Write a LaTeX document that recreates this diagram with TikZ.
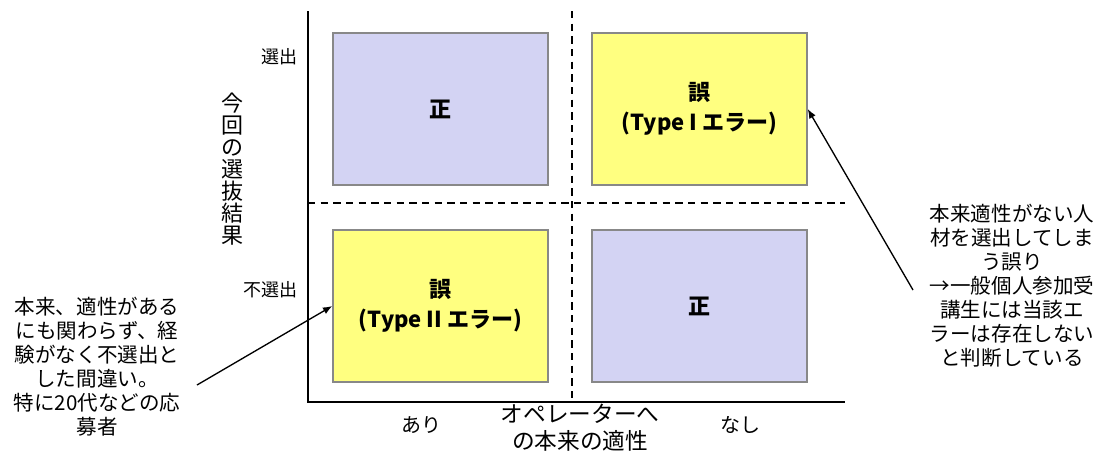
\documentclass[tikz,border=0pt]{standalone}
\usepackage{fontspec}
\setmainfont{Noto Sans CJK JP}
\usetikzlibrary{arrows.meta}
\definecolor{lav}{RGB}{211,211,243}
\definecolor{yel}{RGB}{255,255,128}
\definecolor{edge}{RGB}{136,136,136}
\tikzset{
  quad/.style={draw=edge, line width=1.1pt, minimum width=161.25pt, minimum height=114pt, inner sep=0pt, align=center, font=\fontsize{16.5pt}{22.5pt}\selectfont\bfseries},
  axis/.style={line width=1.1pt},
  divider/.style={line width=1.1pt, dash pattern=on 5.5pt off 4pt},
  note/.style={align=center, inner sep=0pt, font=\fontsize{15.4pt}{18pt}\selectfont},
  tick/.style={inner sep=0pt, font=\fontsize{13.5pt}{16pt}\selectfont},
  pointer/.style={line width=1pt, -{Latex[length=7pt,width=5.5pt]}}
}
\begin{document}
\begin{tikzpicture}[x=0.75pt, y=-0.75pt]
\useasboundingbox (0,0) rectangle (1098,454);
% axes
\coordinate (ytop) at (308,11);
\coordinate (origin) at (308,402);
\coordinate (xend) at (845,402);
\draw[axis] (ytop) -- (origin) -- (xend);
% dividers
\coordinate (vtop) at (572,11);
\coordinate (vbot) at (572,402);
\coordinate (hleft) at (308,203);
\coordinate (hright) at (845,203);
\draw[divider] (vtop) -- (vbot);
\draw[divider] (hleft) -- (hright);
% quadrants
\node[quad, fill=lav] (tl) at (440.5,109) {正};
\node[quad, fill=yel] (tr) at (699.5,109) {誤\\(Type I エラー)};
\node[quad, fill=yel] (bl) at (440.5,306) {誤\\(Type II エラー)};
\node[quad, fill=lav] (br) at (699.5,306) {正};
% axis labels
\node[tick, anchor=east] (sel) at (298,57) {選出};
\node[tick, anchor=east] (nsel) at (298,290) {不選出};
\node[align=center, inner sep=0pt, font=\fontsize{16.5pt}{16.5pt}\selectfont] (ylab) at (232,169) {今\\回\\の\\選\\抜\\結\\果};
\node[inner sep=0pt, font=\fontsize{15pt}{18pt}\selectfont] (ari) at (421,425) {あり};
\node[inner sep=0pt, font=\fontsize{15pt}{18pt}\selectfont] (nashi) at (740,425) {なし};
\node[align=center, inner sep=0pt, font=\fontsize{17pt}{20pt}\selectfont] (xlab) at (580,428) {オペレーターへ\\の本来の適性};
% annotations
\node[note] (lnote) at (97,367) {本来、適性がある\\にも関わらず、経\\験がなく不選出と\\した間違い。\\特に20代などの応\\募者};
\node[note] (rnote) at (1012,286) {本来適性がない人\\材を選出してしま\\う誤り\\→一般個人参加受\\講生には当該エ\\ラーは存在しない\\と判断している};
\coordinate (ltail) at (197,385);
\coordinate (rtail) at (913,290);
\draw[pointer] (ltail) -- (bl.west);
\draw[pointer] (rtail) -- (tr.east);
\end{tikzpicture}
\end{document}
